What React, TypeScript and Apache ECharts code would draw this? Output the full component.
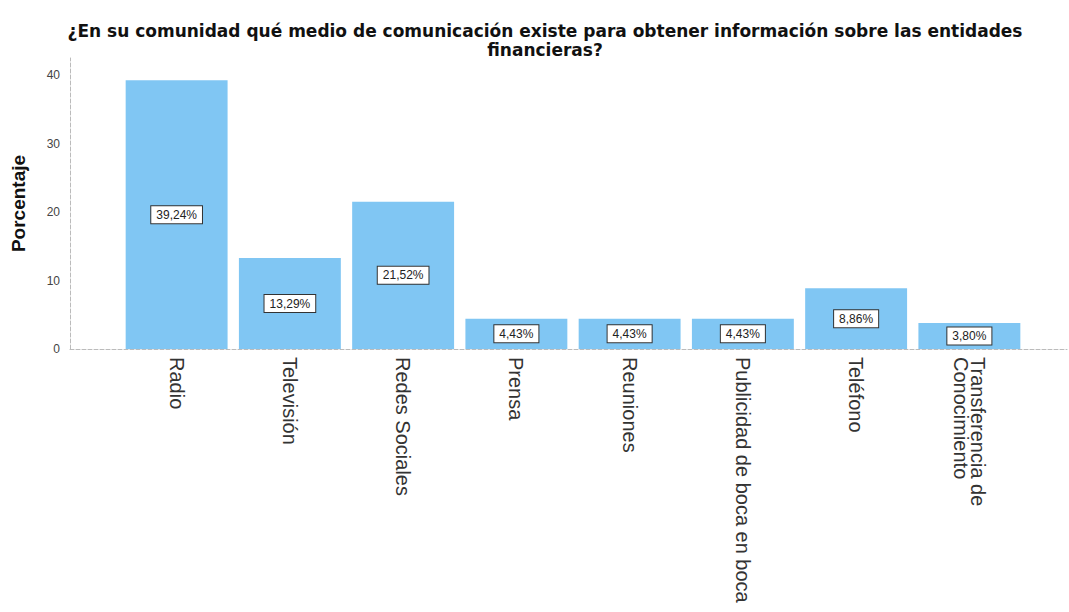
import React, { useEffect, useRef } from "react";
import * as echarts from "echarts";

const categories = [
  "Radio",
  "Televisión",
  "Redes Sociales",
  "Prensa",
  "Reuniones",
  "Publicidad de boca en boca",
  "Teléfono",
  "Transferencia de\nConocimiento",
];
const values = [39.24, 13.29, 21.52, 4.43, 4.43, 4.43, 8.86, 3.8];
const yTicks = [0, 10, 20, 30, 40];
const titleText =
  "¿En su comunidad qué medio de comunicación existe para obtener información sobre las entidades\nfinancieras?";
const yName = "Porcentaje";

export default function App() {
  const ref = useRef<HTMLDivElement>(null);
  useEffect(() => {
    if (!ref.current) return;
    const chart = echarts.init(ref.current, null, { renderer: "svg" });
    const yMax = 42.5;
    const top = 58;
    const bottom = 263;
    chart.setOption({
      animation: false,
      backgroundColor: "#ffffff",
      textStyle: { fontFamily: "Liberation Sans, Arial, sans-serif" },
      title: {
        text: titleText,
        left: 540,
        top: 16,
        textAlign: "center",
        textStyle: {
          fontSize: 17,
          fontWeight: "bold",
          color: "#111",
          lineHeight: 19,
          fontFamily: "DejaVu Sans, sans-serif",
        },
      },
      grid: [
        { left: 120, right: 43, top, bottom },
        { left: 70, right: 2, top, bottom },
      ],
      xAxis: [
        {
          type: "category",
          gridIndex: 0,
          data: categories,
          axisLine: { show: false },
          axisTick: { show: false },
          axisLabel: {
            rotate: -90,
            margin: 8,
            fontSize: 20,
            color: "#333",
            lineHeight: 17,
            interval: 0,
          },
        },
        {
          type: "value",
          gridIndex: 1,
          min: 0,
          max: 1,
          axisLine: {
            show: true,
            lineStyle: { color: "#bbb", type: "dashed", width: 1 },
          },
          axisTick: { show: false },
          axisLabel: { show: false },
          splitLine: { show: false },
        },
      ],
      yAxis: [
        {
          type: "value",
          gridIndex: 0,
          min: 0,
          max: yMax,
          show: false,
          splitLine: { show: false },
        },
        {
          type: "value",
          gridIndex: 1,
          min: yTicks[0],
          max: yMax,
          interval: yTicks[1] - yTicks[0],
          name: yName,
          nameLocation: "middle",
          nameGap: 42,
          nameTextStyle: {
            fontSize: 19,
            fontWeight: "bold",
            color: "#111",
          },
          axisLine: {
            show: true,
            lineStyle: { color: "#bbb", type: "dashed", width: 1 },
          },
          axisTick: { show: false },
          axisLabel: {
            showMaxLabel: false,
            fontSize: 12,
            color: "#444",
            margin: 10,
          },
          splitLine: { show: false },
        },
      ],
      series: [
        {
          type: "bar",
          xAxisIndex: 0,
          yAxisIndex: 0,
          data: values,
          barCategoryGap: "10%",
          itemStyle: { color: "#80c6f3" },
          label: {
            show: true,
            position: "inside",
            formatter: (p: any) =>
              p.value.toFixed(2).replace(".", ",") + "%",
            fontSize: 12,
            color: "#222",
            backgroundColor: "#ffffff",
            borderColor: "#333",
            borderWidth: 1,
            padding: [3, 5, 2, 5],
          },
        },
      ],
    });
    return () => chart.dispose();
  }, []);
  return (
    <div
      ref={ref}
      style={{ position: "fixed", left: 0, top: 0, width: 1069, height: 612 }}
    />
  );
}
